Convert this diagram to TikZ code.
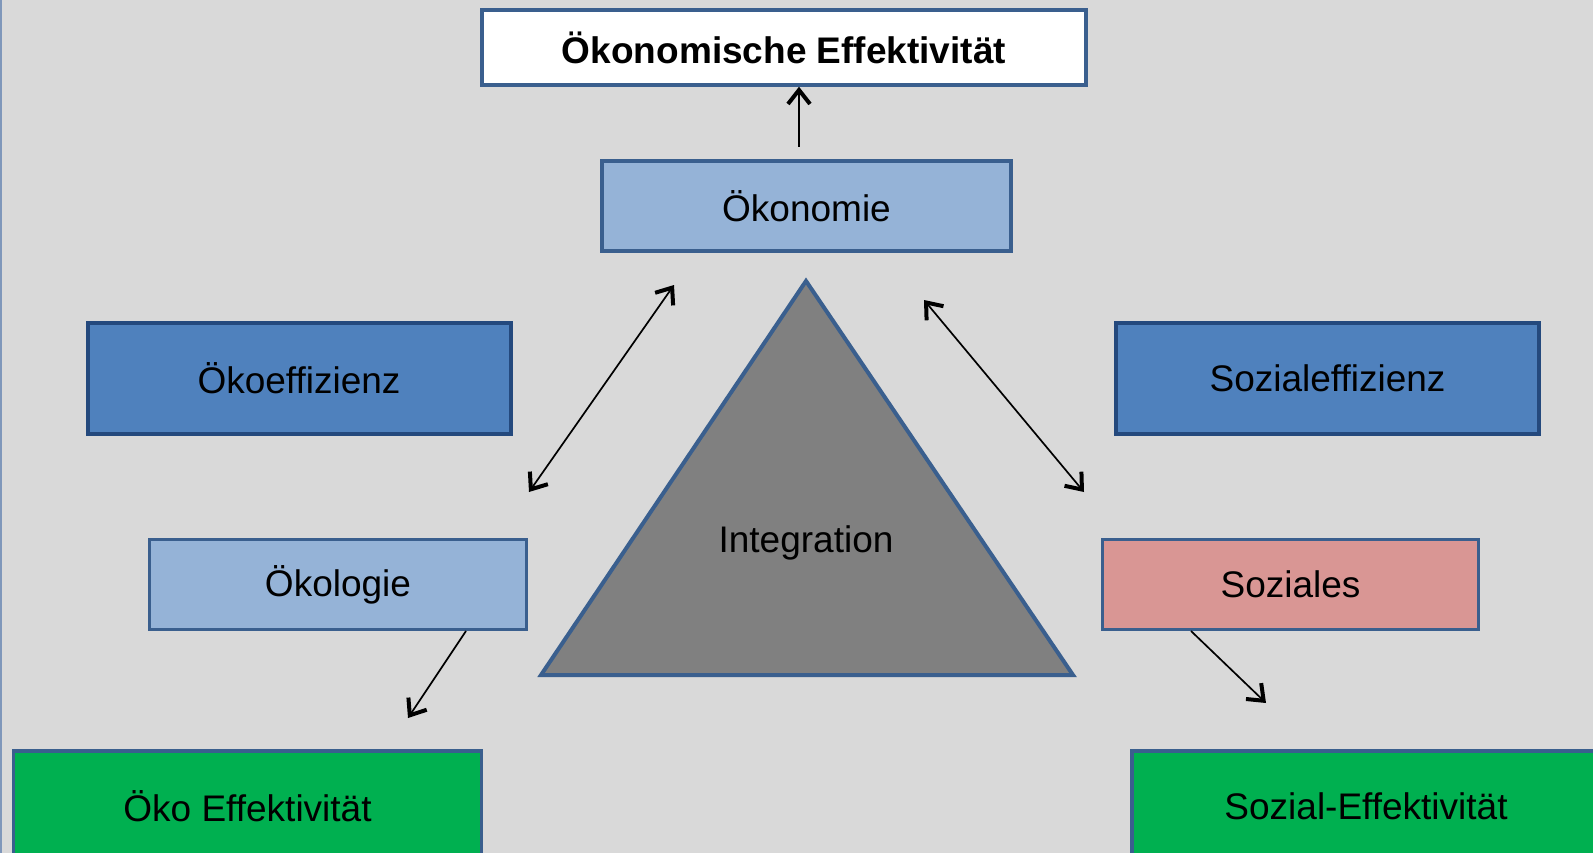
\documentclass[tikz,border=0pt]{standalone}
\usepackage{fontspec}
\setmainfont{Liberation Sans}
\usetikzlibrary{arrows.meta}
\definecolor{bg}{HTML}{D9D9D9}
\definecolor{bord}{HTML}{3A5F8E}
\definecolor{bordd}{HTML}{24497D}
\definecolor{lblue}{HTML}{95B3D7}
\definecolor{mblue}{HTML}{4F81BD}
\definecolor{rose}{HTML}{D99694}
\definecolor{grn}{HTML}{00B050}
\definecolor{tri}{HTML}{808080}
\definecolor{edge}{HTML}{7F97BA}
\begin{document}
\begin{tikzpicture}[x=1pt,y=-1pt,
  bx/.style={draw=bord, line width=3.5pt, inner sep=0pt, font=\fontsize{37}{44}\selectfont, text=black},
  tip/.tip={Straight Barb[length=14pt,width=22pt,line width=4pt]},
  arr/.style={line width=1.7pt, -tip},
  darr/.style={line width=1.7pt, tip-tip}]
\useasboundingbox (0,0) rectangle (1593,853);
\clip (0,0) rectangle (1593,853);
\fill[bg] (0,0) rectangle (1593,853);
\draw[edge, line width=2.5pt] (1,0) -- (1,853);

\node[bx, fill=white, minimum width=604pt, minimum height=75pt, font=\fontsize{37}{44}\selectfont\bfseries] (top) at (784,47.5) {Ökonomische Effektivität};
\node[bx, fill=lblue, minimum width=409pt, minimum height=90pt] (oekon) at (806.5,206) {Ökonomie};
\node[bx, draw=bordd, line width=4pt, fill=mblue, minimum width=423pt, minimum height=111pt] (oeff) at (299,378) {Ökoeffizienz};
\node[bx, draw=bordd, line width=4pt, fill=mblue, minimum width=423pt, minimum height=111pt] (seff) at (1327.5,378) {Sozialeffizienz};
\node[bx, fill=lblue, minimum width=377pt, minimum height=90pt] (oekol) at (338,584.5) {Ökologie};
\node[bx, fill=rose, minimum width=376pt, minimum height=90pt] (soz) at (1290.5,584.5) {Soziales};
\node[bx, fill=grn, minimum width=468pt, minimum height=110pt] (oeko) at (247.5,806) {Öko Effektivität};
\node[bx, fill=grn, minimum width=468pt, minimum height=110pt] (sozeff) at (1366,806) {Sozial-Effektivität};

\coordinate (ta) at (806,281);
\coordinate (tl) at (541,675);
\coordinate (tr) at (1073,675);
\draw[draw=bord, line width=4pt, fill=tri, line join=miter] (ta) -- (tl) -- (tr) -- cycle;
\node[font=\fontsize{37}{44}\selectfont] (integ) at (806,543) {Integration};

\coordinate (a1) at (799,147);
\draw[arr] (a1) -- (top.south -| a1);
\coordinate (l1) at (674,285);
\coordinate (l2) at (529,492);
\draw[darr] (l2) -- (l1);
\coordinate (r1) at (924,300);
\coordinate (r2) at (1084,492);
\draw[darr] (r1) -- (r2);
\coordinate (o1) at (466,631);
\coordinate (o2) at (408,718);
\draw[arr] (o1) -- (o2);
\coordinate (s1) at (1191,631);
\coordinate (s2) at (1266,703);
\draw[arr] (s1) -- (s2);
\end{tikzpicture}
\end{document}
